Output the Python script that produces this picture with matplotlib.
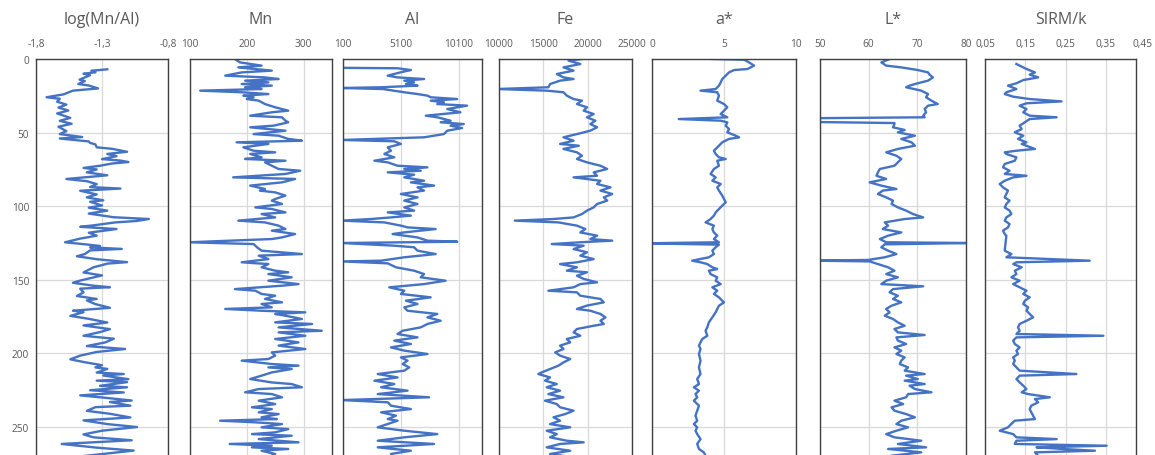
import matplotlib
matplotlib.use("Agg")
import matplotlib.pyplot as plt
from matplotlib.ticker import FuncFormatter, FixedLocator

plt.rcParams['font.family'] = ['Open Sans', 'DejaVu Sans']
plt.rcParams['axes.unicode_minus'] = False

# ---------------- data (depth, value) ----------------
depth_mnal = [7,8,9,10,11,14,15,17,18,20,21.5,24,26,27,29,31,33,35,37,40,42,44,46,49,51,53,54,
              56,57,58,60,61,63,64.5,66,68,69,70,71,72.5,74,75,77,79,81.5,83,85,87,88,89.5,92,94,96,97,99.5,101,103,105,107.5,108.7,110,111,113,114,115.5,118,120,122,124.5,126,127,128,129,130,132.5,134,136,138,139,140,141.5,145,147,150.5,152,154,155,156,158.5,161,163,164,166.5,169,171,172,174.5,176.5,179,181,183.5,185.5,188,190,192.5,195,197,199,201.5,204,206,208,209.5,210.5,213,214,215,217.5,218.5,219.5,222,223,225,226.5,228.5,230,232,233,235.5,236.5,239,241,243.5,245.5,248,250,252.5,255,257,259,261.5,264,266,268,270.5]
mnal = [-1.26,-1.38,-1.35,-1.44,-1.39,-1.47,-1.43,-1.48,-1.40,-1.33,-1.52,-1.59,-1.72,-1.62,-1.64,-1.57,-1.63,-1.555,-1.64,-1.54,-1.62,-1.53,-1.63,-1.57,-1.62,-1.45,-1.62,
        -1.40,-1.39,-1.35,-1.34,-1.225,-1.11,-1.26,-1.19,-1.30,-1.16,-1.10,-1.225,-1.315,-1.44,-1.34,-1.415,-1.26,-1.57,-1.415,-1.34,-1.39,-1.16,-1.465,-1.34,-1.415,-1.29,-1.39,-1.30,-1.40,-1.26,-1.40,-1.21,-0.945,-1.035,-1.20,-1.365,-1.465,-1.19,-1.40,-1.34,-1.465,-1.58,-1.415,-1.315,-1.39,-1.15,-1.39,-1.43,-1.49,-1.34,-1.11,-1.26,-1.30,-1.365,-1.44,-1.30,-1.465,-1.52,-1.365,-1.24,-1.465,-1.44,-1.49,-1.34,-1.415,-1.35,-1.24,-1.52,-1.44,-1.54,-1.40,-1.26,-1.44,-1.24,-1.315,-1.44,-1.21,-1.275,-1.415,-1.125,-1.34,-1.465,-1.54,-1.43,-1.30,-1.35,-1.26,-1.34,-1.135,-1.29,-1.10,-1.34,-1.11,-1.315,-1.11,-1.39,-1.135,-1.465,-1.29,-1.075,-1.24,-1.085,-1.35,-1.415,-1.24,-1.085,-1.44,-1.26,-1.035,-1.30,-1.44,-1.365,-1.075,-1.605,-1.34,-1.06,-1.26,-1.52]

depth_mn = [0,2.3,4.5,5.7,7.9,9.1,11.3,12.5,13.6,14.7,15.9,17,18.1,19.2,20.4,21.5,22.6,23.8,24.9,26,27.2,28.3,30.6,32.8,35.1,36.2,38.5,39.6,41.9,43,45.3,46.4,48.7,51,52.1,54.3,55.5,56.6,57.7,60,62.3,63.4,64.5,66.8,67.9,69.1,70.2,72.5,74.7,75.9,78.1,80.4,81.5,83.8,86,88.3,89.4,90.6,92.8,95.1,96.2,98.5,100.8,101.9,104.2,105.3,107.6,109.8,111,113.2,115.5,116.6,118.9,121.2,122.3,124.5,125.7,127.9,130.2,132.5,133.6,135.9,138.1,139.3,141.5,143.8,144.9,146.1,148.3,150.6,152.9,154,156.3,157.4,159.6,160.8,163,165.3,166.4,168.7,169.8,171,172.1,173.2,174.4,176.6,178.9,180,182.3,184.6,185.7,188,190.2,192.5,194.7,197,199.3,201.5,203.8,204.9,207.2,208.3,209.5,210.6,212.9,215.1,217.4,219.7,220.8,223,224.2,226.4,227.6,229.8,232.1,234.4,236.6,237.8,240,241.2,243.4,244.6,245.7,246.8,248,250.2,251.4,253.6,254.8,255.9,258.2,260.4,261.5,262.7,263.8,264.9,266.1,268.3,270.6]
mn = [179,188,226,185,244,191,162,232,256,197,238,191,244,197,226,118,191,238,194,212,200,221,232,250,273,244,206,262,268,273,247,206,268,212,256,273,297,182,238,194,212,250,206,226,197,268,232,244,256,294,268,176,285,262,206,232,223,250,268,250,244,262,215,244,268,226,250,185,232,256,268,244,285,262,244,98,212,218,226,297,221,238,191,238,226,250,273,238,279,238,291,262,179,215,226,250,232,262,226,244,162,226,303,250,268,297,250,315,256,332,256,303,250,291,256,303,244,250,238,191,244,291,238,279,244,226,206,244,279,297,221,197,244,262,221,250,209,244,221,256,226,253,153,215,262,226,273,250,209,279,221,291,170,244,209,273,226,250,238]

depth_al = [6,6.3,7.5,9,11.3,12.5,13.6,14.7,15.9,17,18.1,19.2,19.7,20.4,22.6,23.8,24.9,26,27.2,28.3,29.4,30.6,31.7,34,36.2,38.5,39.6,41.9,43,44.2,45.3,46.9,48.7,51,53.2,55,55.9,57.7,60,62.3,64.5,66.8,69.1,70.2,72.5,73.6,74.7,75.9,77,78.6,80.4,82.7,83.8,86,87.2,89.4,91.7,94,96.2,98.5,100.8,103,104.2,106.4,107.6,108.7,109.8,111,113.2,114.4,115.5,117.8,118.9,121.2,123.4,124.1,125,126.8,127.9,130.2,132.5,134.7,137,137.5,138.8,141.5,143.8,146.1,148.3,150.6,152.9,155.1,157.4,159.6,161.9,164.2,166.4,168.7,171,173.2,175.5,177.8,180,182.3,184.6,186.8,189.1,191.3,193.6,195.9,198.1,200.4,202.7,204.9,207.2,209.5,211.7,214,216.3,218.5,220.8,223,225.3,227.6,229.8,231.7,233.2,235.5,237.8,240,242.3,244.6,245.7,247.9,250.2,252.5,254.8,257,259.3,261.5,263.8,266.1,268.3,270.6]
al = [0,4810,5960,5100,3960,4810,7100,5390,6240,5530,6530,3390,0,3530,5390,6530,7390,7670,9960,7670,8810,8240,10810,9100,10240,7250,8240,9390,8530,10530,9390,10380,9100,8810,7100,0,4530,5100,3960,4240,3670,4530,2810,3960,4810,7390,5390,6810,3960,6240,5390,7100,5960,7960,6530,7100,5100,6530,5390,6530,5390,6240,3960,5960,4240,2530,0,3670,5100,5670,8100,5390,4380,6530,7390,9960,0,4530,6240,6530,8100,5390,3390,0,3960,4670,6240,7100,6810,8960,7100,4100,5390,5100,7670,5530,6530,5390,5670,8240,7390,8530,7390,6810,5250,4810,6530,4530,5960,4240,5390,7390,5100,5670,5250,5820,5390,3100,4810,2810,4530,3390,5670,3100,7530,0,3960,4240,5960,3390,4670,3960,4810,3960,3100,5390,8240,5390,3100,7960,3100,5960,4240,4530]

depth_fe = [0,1.1,3.4,5.7,7.9,10.2,12.5,13.6,14.7,17,19.2,20.4,21.5,22.6,24.9,27.2,28.3,30.6,32.8,35.1,37.4,39.6,41.9,44.2,46.4,48.7,51,53.2,55.5,57.7,58.9,61.1,63.4,65.7,67.9,70.2,72.5,74.7,77,79.3,80.4,82.7,84.9,87.2,89.4,91.7,94,96.2,98.5,100.8,103,105.3,107.6,108.7,109.8,111,113.2,115.5,117.8,120,122.3,123.4,124.5,125.7,126.8,129.1,131.3,133.6,135.9,138.1,139.3,141.5,143.8,144.9,147.2,149.4,151.7,152.9,155.1,157.4,158.5,160.8,163,165.3,167.5,169.8,171,173.2,175.5,177.8,180,181.2,183.4,185.7,188,190.2,192.5,194.7,197,199.3,201.5,203.8,206.1,208.3,210.6,212.9,214,216.3,218.5,220.8,223,225.3,227.6,229.8,232.1,234.4,236.6,238.9,241.2,243.4,245.7,248,250.2,252.5,254.8,257,259.3,260.4,261.5,263.8,266.1,268.3,270.6]
fe = [19360,17840,19170,17270,18410,16520,17270,18410,16890,15760,15570,9800,15380,17270,17650,18410,19360,18790,19920,19550,20680,19920,20870,20300,21060,20300,18790,17270,18410,16890,19000,17270,18790,19360,18790,19920,21440,22200,20680,21060,18410,21440,21060,22580,21440,22770,21820,22200,21060,20680,19920,19360,18410,16140,11780,16710,18790,19740,19170,21060,20300,22770,19170,15950,19550,18410,19920,19170,20680,18790,16890,18790,17650,19920,18790,19550,21060,19170,18410,15570,18790,19170,21440,21820,19920,18790,20300,21440,22010,21440,21820,20680,18790,18410,19170,17650,18030,16890,17270,16330,16890,18030,17270,16710,15760,14810,14430,15760,15190,16520,15380,16890,15570,17270,15190,16520,16890,18410,17460,16140,16890,15760,18030,15380,16520,15760,17650,19550,16890,15380,18030,15760,18410]

depth_a = [0,0.5,2.3,4.5,6.8,7.5,9.1,11.3,13.6,15.9,18.1,20.4,21.5,22.6,24.9,28.3,30.6,32.8,35.1,37.4,39.6,40.8,41.9,43,45.3,47.6,49.8,52.1,53.2,54.3,56.6,58.9,62.3,64.5,66.8,67.9,69.1,72.5,74.7,78.1,80.4,82.7,84.9,87.2,89.4,92.8,95.1,97.4,99.6,101.9,104.2,106.4,108.7,111,113.2,115.5,117.8,120,122.3,124.5,125.2,126.1,127.9,130.2,132.5,134.7,137,138.1,139.3,141.5,142.7,143.8,146.1,148.3,150.6,152.9,155.1,157.4,159.6,161.9,164.2,165.3,167.6,169.8,172.1,175.5,178.9,182.3,184.6,188,190.2,192.5,194.7,197,200.4,204.9,209.5,214,217.4,220.8,223,225.3,227.6,229.8,232.1,235.5,238.9,242.3,245.7,248,250.2,252.5,254.8,258.2,261.5,264.9,267.2,269.5]
a_star = [4.19,6.4,6.74,7.09,6.63,5.7,5.35,5.12,4.88,4.77,4.65,4.42,3.37,4.53,4.65,4.53,5.0,5.23,5.0,4.77,5.23,1.86,4.77,5.23,5.12,5.35,5.23,5.81,6.05,5.35,4.88,4.65,4.3,4.42,4.65,5.12,4.53,4.65,4.3,4.07,4.42,4.19,4.77,4.53,4.65,4.88,5.0,5.12,4.88,4.65,4.42,4.3,4.07,3.72,4.3,4.19,4.3,4.53,4.3,4.65,-0.5,4.65,4.42,4.19,4.3,3.95,2.79,3.37,3.84,4.19,4.53,3.95,4.07,4.53,4.42,4.77,4.19,4.53,4.3,4.65,4.88,5.0,4.65,4.53,4.42,4.19,3.95,3.84,3.72,3.84,3.49,3.37,3.26,3.37,3.26,3.37,3.26,3.37,3.14,3.26,2.91,3.26,3.02,3.14,2.91,3.26,3.14,3.02,3.14,2.91,3.14,3.02,3.14,3.37,3.14,3.26,3.6,3.72]

depth_l = [0,2.3,4.5,5.7,7.5,9.1,10.6,12.5,14.7,17,18.1,19.2,21.5,23.8,26,28.3,30.6,31.7,34,36.2,38.5,39.6,40.2,42.8,43.5,44.2,46.4,48.2,49.8,52.1,54.3,56.6,58.9,61.1,63.4,65.7,67.9,70.2,72.5,74.7,77,79.3,81.5,83.8,86,88.3,89.4,91.7,94,96.2,98.5,100.8,103,105.3,107.6,108.7,111,113.2,115.5,117.8,120,122.3,124.5,125,125.9,127.9,130.2,132.5,134.7,136.5,137,137.5,139.3,141.5,143.8,146.1,148.3,150.6,152.9,154.4,156.3,158.5,160.8,163,165.3,167.6,169.8,172.1,174.4,176.6,178.9,181.2,183.4,185.7,187.5,189.1,191.3,193.6,195.9,198.1,200.4,202.7,204.9,207.2,209.5,211.7,214,215.1,217.4,218.5,220.8,221.9,224.2,226.4,227.6,229.8,232.1,234.4,236.6,238.9,241.2,243.4,245.7,248,250.2,252.5,254.8,257,259.3,261.5,263.8,264.9,267.2,269.5]
l_star = [64.3,62.6,63.6,66.7,70.1,72.2,72.5,73.2,72.2,69.5,68.4,67.7,70.8,72.2,71.8,72.9,74.2,72.2,71.5,71.8,71.2,71.5,49,49,65.3,65.3,65.0,67.4,66.0,69.5,66.7,68.8,69.5,66.0,63.6,65.7,66.7,66.0,65.3,62.3,61.9,61.6,63.6,60.2,62.6,65.7,62.9,61.9,63.6,65.0,64.7,66.0,67.7,69.1,71.2,67.4,63.3,64.0,62.9,66.7,64.0,62.3,63.6,81,63.3,62.6,64.0,65.7,63.3,59.9,49,60.2,61.9,64.0,65.3,63.6,66.0,63.6,62.6,71.2,65.0,64.3,66.0,65.0,66.7,64.7,63.6,64.3,63.3,65.0,66.0,67.4,65.3,66.0,71.5,65.7,66.0,67.7,65.3,66.7,65.7,67.4,66.7,66.4,68.1,67.4,71.5,67.7,70.1,67.4,71.5,68.4,69.5,72.9,68.1,67.7,65.3,67.1,64.7,65.3,67.7,69.5,66.7,65.7,68.1,65.7,63.6,65.3,70.8,66.0,71.8,64.0,70.8,64.7]

depth_sirm = [3.4,5.2,6.8,9.1,10.6,12.5,14.3,16.5,18.1,20.4,22.6,23.8,25.6,27.2,28.8,30.1,31.7,34,36.2,38.5,39.6,40.8,43,45.3,47.6,49.8,52.1,54.3,56.6,57.7,61.1,62.3,63.4,64.5,66.8,69.1,71.3,73.6,75.9,78.1,79.3,80.4,82.7,84.9,87.2,89.4,91.7,94,96.2,98.5,100.8,103,105.3,107.6,109.8,112.1,114.4,116.6,118.9,120,130.2,132.5,134.7,137,138.1,139.3,141.5,143.8,146.1,148.3,150.6,152.9,155.1,157.4,159.6,161.9,164.2,166.4,168.7,171,173.2,175.5,177.8,180,182.3,184.6,186.8,188,189.1,191.3,193.6,195.9,198.1,200.4,202.7,204.9,207.2,209.5,211.7,214,215.1,217.4,219.7,221.9,224.2,226.4,227.6,229.8,231,233.2,235.5,237.8,240,242.3,244.6,245.7,248,250.2,252.5,254.8,257,258.2,259.3,261.5,262.7,263.8,264.9,266.1,267.2,269.5]
sirm_k = [0.128,0.141,0.153,0.174,0.161,0.182,0.145,0.128,0.107,0.128,0.103,0.099,0.12,0.161,0.24,0.153,0.136,0.153,0.145,0.161,0.228,0.161,0.149,0.136,0.141,0.124,0.145,0.132,0.153,0.141,0.174,0.128,0.099,0.103,0.128,0.124,0.099,0.0948,0.111,0.099,0.153,0.12,0.099,0.0865,0.0948,0.107,0.103,0.099,0.111,0.103,0.099,0.111,0.1156,0.103,0.099,0.111,0.107,0.0948,0.099,0.103,0.099,0.1156,0.103,0.31,0.128,0.12,0.141,0.124,0.128,0.1156,0.136,0.12,0.136,0.153,0.145,0.161,0.149,0.145,0.157,0.153,0.161,0.1695,0.153,0.136,0.132,0.136,0.128,0.344,0.128,0.12,0.124,0.136,0.128,0.132,0.12,0.124,0.12,0.128,0.136,0.277,0.136,0.128,0.136,0.145,0.153,0.141,0.157,0.211,0.174,0.182,0.165,0.161,0.165,0.1695,0.174,0.124,0.115,0.107,0.0865,0.12,0.128,0.228,0.128,0.124,0.352,0.178,0.244,0.323,0.174,0.182]

titles = ["log(Mn/Al)", "Mn", "Al", "Fe", "a*", "L*", "SIRM/k"]
x_limits = [(-1.8, -0.8), (100, 350), (100, 12100), (10000, 25000), (0, 10), (50, 80), (0.05, 0.425)]
x_ticks = [[-1.8, -1.3, -0.8], [100, 200, 300], [100, 5100, 10100], [10000, 15000, 20000, 25000],
           [0, 5, 10], [50, 60, 70, 80], [0.05, 0.15, 0.25, 0.35]]
extra_label = [None, None, None, None, None, None, "0,45"]
depth_ticks = [0, 50, 100, 150, 200, 250]

series = [(depth_mnal, mnal), (depth_mn, mn), (depth_al, al), (depth_fe, fe),
          (depth_a, a_star), (depth_l, l_star), (depth_sirm, sirm_k)]

# ---------------- layout ----------------
W, H = 1155, 456
panels_px = [(36, 168), (190, 332), (343, 482), (499, 632), (652, 796), (820, 966), (985, 1136)]
top_px = 60

fig = plt.figure(figsize=(W / 100, H / 100), dpi=100)
line_color = "#4472C4"
text_color = "#595959"
grid_color = "#D9D9D9"
tick_fs = 7.3
tick_pad = 7

def fmt(v, pos):
    if abs(v - round(v)) < 1e-9:
        s = str(int(round(v)))
    else:
        s = ("%g" % v)
    return s.replace(".", ",")

for i, ((d, v), (x0, x1)) in enumerate(zip(series, panels_px)):
    ax = fig.add_axes([x0 / W, 0, (x1 - x0) / W, 1 - top_px / H])
    ax.plot(v, d, color=line_color, lw=1.7, solid_joinstyle="round")
    ax.set_xlim(*x_limits[i])
    ax.set_ylim(269, 0)
    ax.xaxis.set_major_locator(FixedLocator(x_ticks[i]))
    ax.xaxis.set_major_formatter(FuncFormatter(fmt))
    ax.xaxis.tick_top()
    ax.set_yticks(depth_ticks)
    ax.grid(True, color=grid_color, lw=0.9)
    ax.set_axisbelow(True)
    ax.tick_params(axis="x", length=0, pad=tick_pad, labelsize=tick_fs, labelcolor=text_color)
    ax.tick_params(axis="y", length=0, pad=5, labelsize=tick_fs, labelcolor=text_color)
    if i != 0:
        ax.tick_params(axis="y", labelleft=False)
    for side in ("top", "left", "right"):
        ax.spines[side].set_color("#404040")
        ax.spines[side].set_linewidth(1.0)
    ax.spines["bottom"].set_visible(False)
    if extra_label[i]:
        ax.annotate(extra_label[i], xy=(1.0, 1.0), xycoords="axes fraction",
                    xytext=(4.5, tick_pad), textcoords="offset points",
                    ha="center", va="bottom", fontsize=tick_fs, color=text_color,
                    annotation_clip=False)
    fig.text((x0 + x1) / 2 / W, 1 - 20 / H, titles[i], ha="center", va="center",
             fontsize=11.5, color=text_color)

fig.savefig("out.png", dpi=100)
